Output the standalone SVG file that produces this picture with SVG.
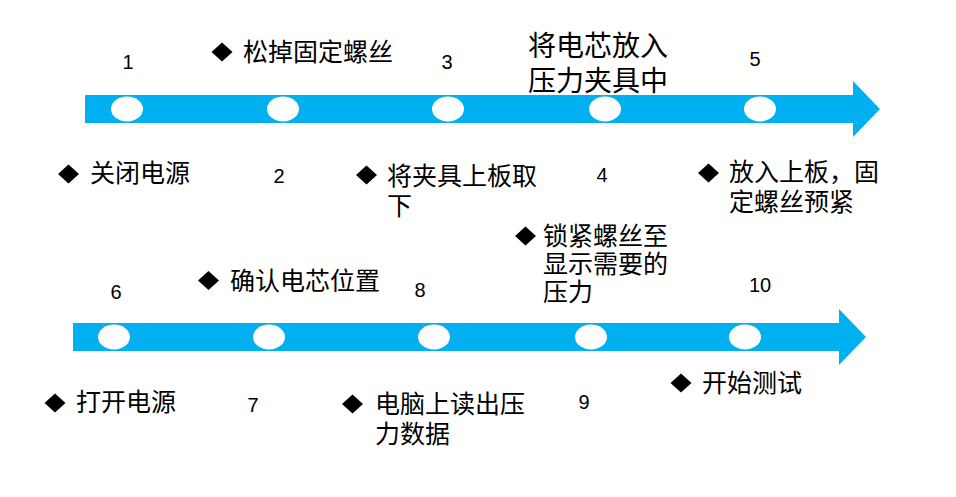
<svg xmlns="http://www.w3.org/2000/svg" width="956" height="497" viewBox="0 0 956 497">
<style>
.arrow{fill:#00B0F0;}
.dot{fill:#FFFFFF;}
.num{font-family:"Liberation Sans",Arial,sans-serif;font-size:20px;fill:#000;text-anchor:middle;}
.cn{font-family:"Noto Sans CJK SC",sans-serif;font-size:25px;fill:#000;}
.cnb{font-family:"Noto Sans CJK SC",sans-serif;font-size:28px;fill:#000;}
.dia{fill:#000;}
</style>
<defs>
<path id="dia" d="M0,-9.5 L10.5,0 L0,9.5 L-10.5,0 Z"/>
</defs>
<g id="connectors">
<path class="arrow" d="M85,95 H853 V81 L880,109 L853,137 V123 H85 Z"/>
<path class="arrow" d="M73,323 H839 V309 L866,337 L839,365 V351 H73 Z"/>
</g>
<g id="dots-top">
<ellipse class="dot" cx="127" cy="109" rx="16" ry="12.5"/>
<ellipse class="dot" cx="283" cy="109" rx="16" ry="12.5"/>
<ellipse class="dot" cx="448" cy="109" rx="16" ry="12.5"/>
<ellipse class="dot" cx="605" cy="109" rx="16" ry="12.5"/>
<ellipse class="dot" cx="760" cy="109" rx="16" ry="12.5"/>
</g>
<g id="dots-bottom">
<ellipse class="dot" cx="114" cy="337" rx="16" ry="12.5"/>
<ellipse class="dot" cx="269" cy="337" rx="16" ry="12.5"/>
<ellipse class="dot" cx="434" cy="337" rx="16" ry="12.5"/>
<ellipse class="dot" cx="591" cy="337" rx="16" ry="12.5"/>
<ellipse class="dot" cx="745" cy="337" rx="16" ry="12.5"/>
</g>
<g id="step1">
<text class="num" x="128" y="69">1</text>
<use href="#dia" class="dia" x="68.5" y="174"/>
<text class="cn" x="90" y="182">关闭电源</text>
</g>
<g id="step2">
<text class="num" x="279" y="183">2</text>
<use href="#dia" class="dia" x="222" y="52"/>
<text class="cn" x="243" y="61">松掉固定螺丝</text>
</g>
<g id="step3">
<text class="num" x="447" y="69">3</text>
<use href="#dia" class="dia" x="366.5" y="175"/>
<text class="cn" x="387" y="185">将夹具上板取</text>
<text class="cn" x="387" y="215">下</text>
</g>
<g id="step4">
<text class="num" x="602" y="182">4</text>
<text class="cnb" x="528" y="56">将电芯放入</text>
<text class="cnb" x="528" y="91">压力夹具中</text>
</g>
<g id="step5">
<text class="num" x="755" y="66">5</text>
<use href="#dia" class="dia" x="708.5" y="173"/>
<text class="cn" x="729" y="181">放入上板，固</text>
<text class="cn" x="729" y="211">定螺丝预紧</text>
</g>
<g id="step6">
<text class="num" x="116" y="299">6</text>
<use href="#dia" class="dia" x="55" y="403"/>
<text class="cn" x="76" y="411">打开电源</text>
</g>
<g id="step7">
<text class="num" x="253" y="412">7</text>
<use href="#dia" class="dia" x="208.5" y="280.5"/>
<text class="cn" x="230" y="290">确认电芯位置</text>
</g>
<g id="step8">
<text class="num" x="420" y="297">8</text>
<use href="#dia" class="dia" x="352.5" y="404"/>
<text class="cn" x="375" y="413">电脑上读出压</text>
<text class="cn" x="375" y="443">力数据</text>
</g>
<g id="step9">
<text class="num" x="584" y="409">9</text>
<use href="#dia" class="dia" x="525.5" y="236"/>
<text class="cn" x="543" y="245">锁紧螺丝至</text>
<text class="cn" x="543" y="273">显示需要的</text>
<text class="cn" x="543" y="301">压力</text>
</g>
<g id="step10">
<text class="num" x="760" y="292">10</text>
<use href="#dia" class="dia" x="681" y="383"/>
<text class="cn" x="702" y="392">开始测试</text>
</g>
</svg>
